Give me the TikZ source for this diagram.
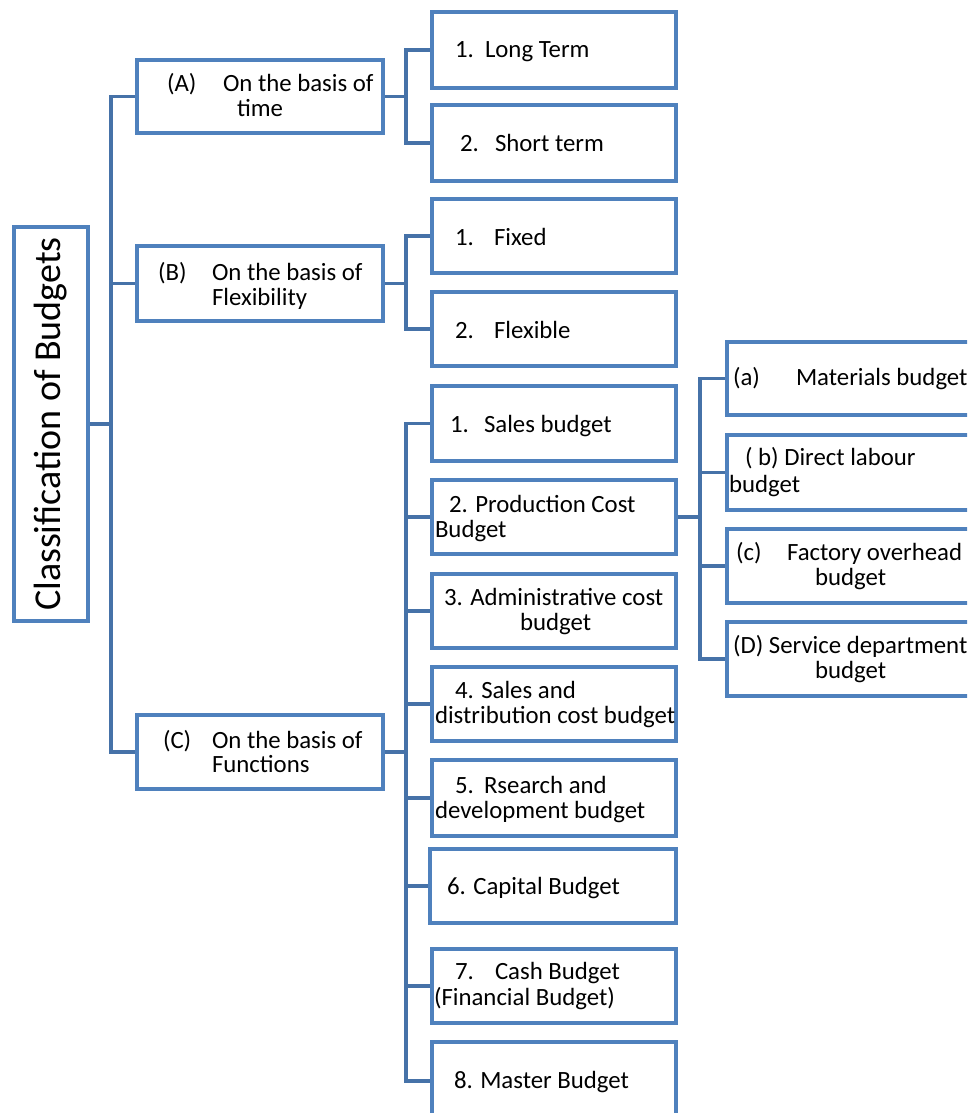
\documentclass[tikz,border=0pt]{standalone}
\usepackage{fontspec}
\setmainfont{Carlito}
\usetikzlibrary{backgrounds}
\definecolor{boxblue}{RGB}{79,129,189}
\definecolor{linkblue}{RGB}{70,114,168}
\tikzset{
  x=1pt, y=-1pt,
  box/.style={draw=boxblue, line width=4pt, fill=white, rectangle, inner sep=0pt, outer sep=0pt},
  link/.style={draw=linkblue, line width=3.8pt, line join=miter},
  txt/.style={anchor=base west, inner sep=0pt, outer sep=0pt, font=\fontsize{24.8}{26}\selectfont},
  title/.style={rotate=90, inner sep=0pt, font=\fontsize{38}{40}\selectfont},
}
% a box given by its outer left, top, right and bottom edges
\newcommand{\boxat}[5]{%
  \node[box, minimum width={#4-#2-4}, minimum height={#5-#3-4}] (#1) at ({(#2+#4)/2},{(#3+#5)/2}) {};}
\begin{document}
\begin{tikzpicture}
\useasboundingbox (0,0) rectangle (967,1113);
\clip (0,0) rectangle (967,1113);

% boxes
\boxat{root}{12}{225}{90}{623}
\boxat{A}{135}{58}{385}{135}
\boxat{B}{135}{244}{385}{323}
\boxat{C}{135}{713}{385}{791}
\boxat{long}{430}{10}{678}{90}
\boxat{short}{430}{103}{678}{183}
\boxat{fixed}{430}{197}{678}{275}
\boxat{flex}{430}{290}{678}{368}
\boxat{f1}{430}{384}{678}{463}
\boxat{f2}{430}{478}{678}{556}
\boxat{f3}{430}{572}{678}{650}
\boxat{f4}{430}{665}{678}{743}
\boxat{f5}{430}{758}{678}{838}
\boxat{f6}{428}{847}{678}{925}
\boxat{f7}{430}{947}{678}{1025}
\boxat{f8}{430}{1040}{678}{1122}
\boxat{pa}{725}{340}{1000}{417}
\boxat{pb}{725}{433}{1000}{512}
\boxat{pc}{725}{527}{1000}{605}
\boxat{pd}{725}{620}{1000}{698}

% connectors, kept behind the boxes
\begin{scope}[on background layer]
\draw[link] (root.east) -- ++(23,0) coordinate (t0);
\foreach \n in {A,B,C} \draw[link] (t0) |- (\n.west);

\draw[link] (A.east) -- ++(23,0) coordinate (tA);
\foreach \n in {long,short} \draw[link] (tA) |- (\n.west);

\draw[link] (B.east) -- ++(23,0) coordinate (tB);
\foreach \n in {fixed,flex} \draw[link] (tB) |- (\n.west);

\draw[link] (C.east) -- ++(23,0) coordinate (tC);
\foreach \n in {f1,f2,f3,f4,f5,f6,f7,f8} \draw[link] (tC) |- (\n.west);

\draw[link] (f2.east) -- ++(24,0) coordinate (tP);
\foreach \n in {pa,pb,pc,pd} \draw[link] (tP) |- (\n.west);
\end{scope}

% texts
\node[title] (troot) at (root.center) {Classification of Budgets};

\node[txt] (tA1) at (167,92) {(A)};
\node[txt] (tA2) at (223,92) {On the basis of};
\node[txt] (tA3) at (237,117) {time};

\node[txt] (tB1) at (158,280) {(B)};
\node[txt] (tB2) at (212,280) {On the basis of};
\node[txt] (tB3) at (212,305) {Flexibility};

\node[txt] (tC1) at (163,748) {(C)};
\node[txt] (tC2) at (212,748) {On the basis of};
\node[txt] (tC3) at (212,772) {Functions};

\node[txt] (tl1) at (455,58) {1.};
\node[txt] (tl2) at (485,58) {Long Term};
\node[txt] (ts1) at (460,151) {2.};
\node[txt] (ts2) at (495,151) {Short term};

\node[txt] (tx1) at (455,245) {1.};
\node[txt] (tx2) at (494,245) {Fixed};
\node[txt] (ty1) at (455,338) {2.};
\node[txt] (ty2) at (494,338) {Flexible};

\node[txt] (t11) at (450,432) {1.};
\node[txt] (t12) at (484,432) {Sales budget};
\node[txt] (t21) at (449,512) {2. Production Cost};
\node[txt] (t22) at (435,537) {Budget};
\node[txt] (t31) at (444,605) {3. Administrative cost};
\node[txt] (t32) at (520,630) {budget};
\node[txt] (t41) at (455,698) {4. Sales and};
\node[txt] (t42) at (435,723) {distribution cost budget};
\node[txt] (t51) at (455,793) {5.};
\node[txt] (t52) at (484,793) {Rsearch and};
\node[txt] (t53) at (435,818) {development budget};
\node[txt] (t61) at (447,894) {6. Capital Budget};
\node[txt] (t71) at (455,979) {7.};
\node[txt] (t72) at (495,979) {Cash Budget};
\node[txt] (t73) at (434,1005) {(Financial Budget)};
\node[txt] (t81) at (454,1088) {8. Master Budget};

\node[txt] (ta1) at (733,385) {(a)};
\node[txt] (ta2) at (796,385) {Materials budget};
\node[txt] (tb1) at (745,465) {( b) Direct labour};
\node[txt] (tb2) at (729,492) {budget};
\node[txt] (tc1) at (736,560) {(c)};
\node[txt] (tc2) at (787,560) {Factory overhead};
\node[txt] (tc3) at (815,585) {budget};
\node[txt] (td1) at (733,653) {(D) Service department};
\node[txt] (td2) at (815,678) {budget};
\end{tikzpicture}
\end{document}
